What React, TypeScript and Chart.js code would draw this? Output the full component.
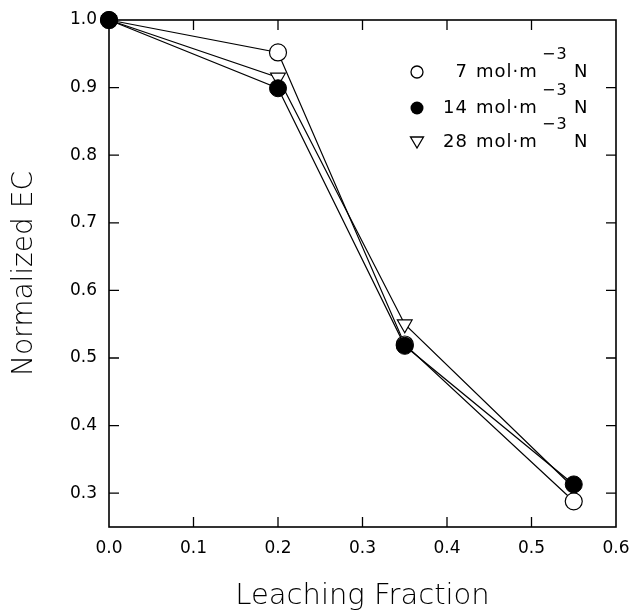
import React, { useEffect, useRef } from "react";
import { Chart, registerables } from "chart.js";

Chart.register(...registerables);

const leachingFraction = [0.0, 0.2, 0.35, 0.55];
const ec7 = [1.0, 0.952, 0.52, 0.288];
const ec14 = [1.0, 0.899, 0.518, 0.313];
const ec28 = [1.0, 0.915, 0.55, 0.308];
const xTicks = [0.1, 0.2, 0.3, 0.4, 0.5];
const yTicks = [0.3, 0.4, 0.5, 0.6, 0.7, 0.8, 0.9];
const xLabels = [0, 0.1, 0.2, 0.3, 0.4, 0.5, 0.6];
const yLabels = [0.3, 0.4, 0.5, 0.6, 0.7, 0.8, 0.9, 1.0];
const legendNumbers = ["7", "14", "28"];
const FONT = "'DejaVu Sans', 'Liberation Sans', sans-serif";

const framePlugin = {
  id: "frame",
  beforeDatasetsDraw(chart: any) {
    const { ctx, chartArea: a, scales } = chart;
    ctx.save();
    ctx.strokeStyle = "#000";
    ctx.lineWidth = 1.6;
    ctx.strokeRect(a.left, a.top, a.right - a.left, a.bottom - a.top);
    const tl = 10;
    ctx.lineWidth = 1.3;
    ctx.beginPath();
    for (const v of xTicks) {
      const x = scales.x.getPixelForValue(v);
      ctx.moveTo(x, a.bottom);
      ctx.lineTo(x, a.bottom - tl);
      ctx.moveTo(x, a.top);
      ctx.lineTo(x, a.top + tl);
    }
    for (const v of yTicks) {
      const y = scales.y.getPixelForValue(v);
      ctx.moveTo(a.left, y);
      ctx.lineTo(a.left + tl, y);
      ctx.moveTo(a.right, y);
      ctx.lineTo(a.right - tl, y);
    }
    ctx.stroke();
    ctx.restore();
  },
  afterDraw(chart: any) {
    const { ctx, chartArea: a } = chart;
    ctx.save();
    const markerX = a.left + 308;
    const rows = [a.top + 52, a.top + 88, a.top + 122];
    ctx.fillStyle = "#000";
    ctx.strokeStyle = "#000";
    ctx.lineWidth = 1.3;
    rows.forEach((y, i) => {
      ctx.beginPath();
      if (i === 0) {
        ctx.arc(markerX, y, 6, 0, Math.PI * 2);
        ctx.stroke();
      } else if (i === 1) {
        ctx.arc(markerX, y, 6.5, 0, Math.PI * 2);
        ctx.fill();
      } else {
        ctx.moveTo(markerX - 6.5, y - 5);
        ctx.lineTo(markerX + 6.5, y - 5);
        ctx.lineTo(markerX, y + 6);
        ctx.closePath();
        ctx.stroke();
      }
      (ctx as any).letterSpacing = "1px";
      ctx.font = `18px ${FONT}`;
      ctx.textBaseline = "middle";
      ctx.textAlign = "right";
      ctx.fillText(legendNumbers[i], a.left + 359, y);
      ctx.textAlign = "left";
      ctx.fillText("mol\u00b7m", a.left + 367, y);
      ctx.font = `16px ${FONT}`;
      ctx.fillText("\u22123", a.left + 433, y - 17);
      ctx.font = `18px ${FONT}`;
      ctx.fillText("N", a.left + 465, y);
    });
    ctx.restore();
  },
};

export default function App() {
  const ref = useRef<HTMLCanvasElement>(null);
  useEffect(() => {
    document.body.style.margin = "0";
    const mk = (d: number[]) => leachingFraction.map((x, i) => ({ x, y: d[i] }));
    const chart = new Chart(ref.current as HTMLCanvasElement, {
      type: "scatter",
      data: {
        datasets: [
          {
            label: "14",
            data: mk(ec14),
            showLine: true,
            borderColor: "#000",
            borderWidth: 1.2,
            pointStyle: "circle",
            pointRadius: 8.5,
            pointBackgroundColor: "#000",
            pointBorderColor: "#000",
            pointBorderWidth: 1,
          },
          {
            label: "7",
            data: mk(ec7),
            showLine: true,
            borderColor: "#000",
            borderWidth: 1.2,
            pointStyle: "circle",
            pointRadius: 8.5,
            pointBackgroundColor: "#fff",
            pointBorderColor: "#000",
            pointBorderWidth: 1.2,
          },
          {
            label: "28",
            data: mk(ec28),
            showLine: true,
            borderColor: "#000",
            borderWidth: 1.2,
            pointStyle: "triangle",
            rotation: 180,
            pointRadius: 8.5,
            pointBackgroundColor: "#fff",
            pointBorderColor: "#000",
            pointBorderWidth: 1.2,
          },
        ] as any,
      },
      options: {
        animation: false,
        responsive: false,
        devicePixelRatio: 1,
        clip: false as any,
        layout: { padding: { top: 20, right: 19, left: 0, bottom: 0 } },
        plugins: { legend: { display: false }, tooltip: { enabled: false } },
        scales: {
          x: {
            type: "linear",
            min: 0,
            max: 0.6,
            afterFit: (s: any) => {
              s.height = 84;
              s.paddingRight = 0;
              s.paddingLeft = 0;
            },
            afterBuildTicks: (s: any) => {
              s.ticks = xLabels.map((v) => ({ value: v }));
            },
            grid: { display: false, drawTicks: false },
            border: { display: false },
            ticks: {
              padding: 11,
              color: "#000",
              font: { family: FONT, size: 17 },
              callback: (v: any) => Number(v).toFixed(1),
              maxRotation: 0,
              autoSkip: false,
            },
            title: {
              display: true,
              text: "Leaching Fraction",
              color: "#000",
              font: { family: FONT, size: 29, weight: "200" },
              padding: { top: 0, bottom: -3 },
            },
          },
          y: {
            type: "linear",
            min: 0.25,
            max: 1.0,
            afterFit: (s: any) => {
              s.width = 109;
              s.paddingTop = 0;
              s.paddingBottom = 0;
            },
            afterBuildTicks: (s: any) => {
              s.ticks = yLabels.map((v) => ({ value: v }));
            },
            grid: { display: false, drawTicks: false },
            border: { display: false },
            ticks: {
              padding: 12,
              color: "#000",
              font: { family: FONT, size: 17 },
              callback: (v: any) => Number(v).toFixed(1),
              autoSkip: false,
            },
            title: {
              display: true,
              text: "Normalized EC",
              color: "#000",
              font: { family: FONT, size: 28, weight: "200" },
              padding: { top: 8, bottom: 0 },
            },
          },
        },
      },
      plugins: [framePlugin],
    });
    return () => chart.destroy();
  }, []);
  return (
    <div style={{ width: 635, height: 611, background: "#fff" }}>
      <canvas ref={ref} width={635} height={611} />
    </div>
  );
}
